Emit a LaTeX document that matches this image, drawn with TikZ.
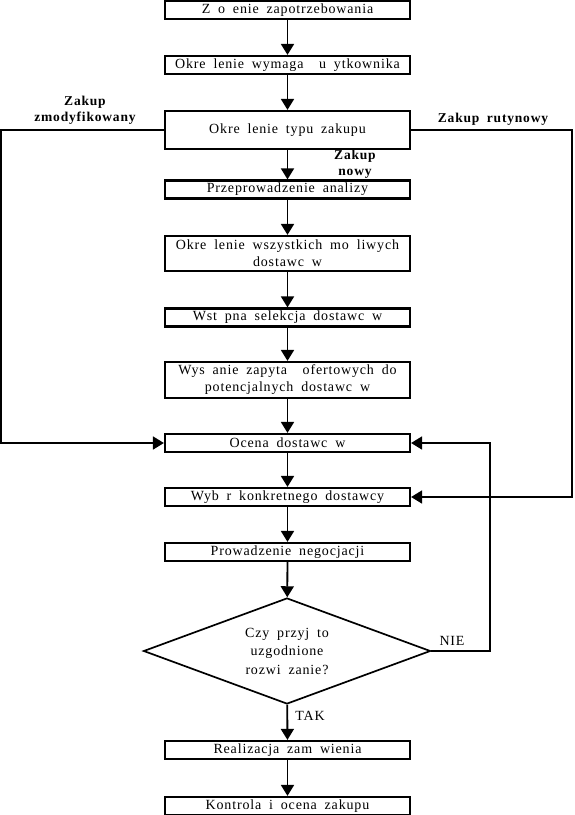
\documentclass[tikz,border=0pt]{standalone}
\usepackage{fontspec}
\setmainfont[LetterSpace=6,WordSpace=1.8]{Liberation Serif}
\usetikzlibrary{arrows.meta,shapes.geometric}

\begin{document}
\begin{tikzpicture}[x=1pt,y=-1pt,
		box/.style={draw, line width=2.2pt, minimum width=245pt, minimum height=18pt, inner sep=0pt, align=center, font=\fontsize{14}{17}\selectfont},
		decision/.style={draw, diamond, aspect=2.7, line width=1.7pt, minimum width=287pt, minimum height=106pt, inner sep=0pt, align=center, font=\fontsize{14}{18.5}\selectfont},
		arr/.style={line width=1.8pt, -{Triangle[width=13pt,length=11pt]}},
		lbl/.style={font=\fontsize{13.5}{16}\selectfont\bfseries, align=center}]
	\useasboundingbox (0,0) rectangle (574,815);
	% kolejne etapy zakupu
	\node[box] (zlozenie) at (287.5,10) {Z o enie zapotrzebowania};
	\node[box] (wymagania) at (287.5,65) {Okre lenie wymaga\ \ u ytkownika};
	\node[box, minimum height=38pt] (typ) at (287.5,130) {Okre lenie typu zakupu};
	\node[box] (analiza) at (287.5,189.5) {Przeprowadzenie analizy};
	\node[box, minimum height=35pt] (wszyscy) at (287.5,253.5) {Okre lenie wszystkich mo liwych\\dostawc w};
	\node[box] (selekcja) at (287.5,317.5) {Wst pna selekcja dostawc w};
	\node[box, minimum height=36pt] (zapytania) at (287.5,380) {Wys anie zapyta\ \ ofertowych do\\potencjalnych dostawc w};
	\node[box] (ocena) at (287.5,443) {Ocena dostawc w};
	\node[box] (wybor) at (287.5,497) {Wyb r konkretnego dostawcy};
	\node[box] (negocjacje) at (287.5,552) {Prowadzenie negocjacji};
	\node[decision] (decyzja) at (287,651) {Czy przyj to\\uzgodnione\\rozwi zanie?};
	\node[box] (realizacja) at (287.5,750) {Realizacja zam wienia};
	\node[box] (kontrola) at (287.5,806) {Kontrola i ocena zakupu};

	\node[lbl] (zmod) at (85,110) {Zakup\\zmodyfikowany};
	\node[lbl] (rutyna) at (493,119) {Zakup rutynowy};
	\node[lbl] (nowy) at (355,164) {Zakup\\nowy};
	\node[font=\fontsize{14}{14}\selectfont] (nie) at (452,641) {NIE};
	\node[font=\fontsize{14}{14}\selectfont] (tak) at (310,716) {TAK};

	\coordinate (lewo) at (1,0);
	\coordinate (prawo) at (572,0);
	\coordinate (petla) at (490,0);

	\draw[arr] (zlozenie) -- (wymagania);
	\draw[arr] (wymagania) -- (typ);
	\draw[arr] (typ) -- (analiza);
	\draw[arr] (analiza) -- (wszyscy);
	\draw[arr] (wszyscy) -- (selekcja);
	\draw[arr] (selekcja) -- (zapytania);
	\draw[arr] (zapytania) -- (ocena);
	\draw[arr] (ocena) -- (wybor);
	\draw[arr] (wybor) -- (negocjacje);
	\draw[arr] (negocjacje) -- (decyzja);
	\draw[arr] (decyzja) -- (realizacja);
	\draw[arr] (realizacja) -- (kontrola);

	\draw[arr] (typ.west) -- (typ.west -| lewo) -- (ocena.west -| lewo) -- (ocena.west);
	\draw[arr] (typ.east) -- (typ.east -| prawo) -- (wybor.east -| prawo) -- (wybor.east);
	\draw[arr] (decyzja.east) -- (decyzja.east -| petla) -- (ocena.east -| petla) -- (ocena.east);
\end{tikzpicture}
\end{document}
